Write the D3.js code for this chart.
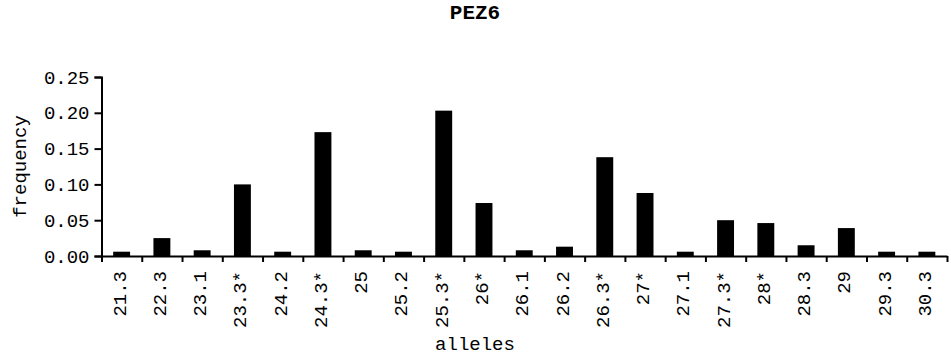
<!DOCTYPE html>
<html lang="en">
<head>
    <title>PEZ6</title>
    <script src="https://d3js.org/d3.v7.min.js" charset="utf-8"></script>
    <style type="text/css">
        body
        {
            margin: 0;
            background-color: white;
        }
        svg text
        {
            font-family: "Liberation Mono", "Courier New", monospace;
            fill: black;
        }
    </style>
</head>
<body>
    <div id="chart_div"></div>
    <script>
    "use strict";
    var alleles = ["21.3", "22.3", "23.1", "23.3*", "24.2", "24.3*", "25", "25.2", "25.3*", "26*", "26.1",
                   "26.2", "26.3*", "27*", "27.1", "27.3*", "28*", "28.3", "29", "29.3", "30.3"];
    var frequency = [0.006, 0.025, 0.008, 0.100, 0.006, 0.173, 0.008, 0.006, 0.203, 0.074, 0.008,
                     0.013, 0.138, 0.088, 0.006, 0.050, 0.046, 0.015, 0.039, 0.006, 0.006];
    var y_ticks = [0, 0.05, 0.10, 0.15, 0.20, 0.25];

    var svg_width = 951;
    var svg_height = 357;
    var plot_left = 101.5, plot_right = 947, plot_top = 77, plot_bottom = 256;

    var chart_svg = d3.select("#chart_div")
        .append("svg")
        .attr("width", svg_width)
        .attr("height", svg_height);

    var x = d3.scaleBand()
        .domain(alleles)
        .range([plot_left, plot_right])
        .paddingInner(0.58)
        .paddingOuter(0.29);
    var x_edges = d3.scaleLinear()
        .domain([0, alleles.length])
        .range([plot_left, plot_right]);
    var y = d3.scaleLinear()
        .domain([0, 0.25])
        .range([plot_bottom, plot_top]);

    // bars
    chart_svg.append("g")
        .selectAll("rect")
        .data(frequency)
        .enter()
        .append("rect")
        .attr("x", function(d, i) { return x(alleles[i]); })
        .attr("width", x.bandwidth())
        .attr("y", function(d) { return y(d); })
        .attr("height", function(d) { return plot_bottom - y(d); })
        .attr("fill", "black");

    // y axis
    var y_axis = chart_svg.append("g")
        .attr("transform", "translate(" + plot_left + ",0)")
        .call(d3.axisLeft(y).tickValues(y_ticks).tickFormat(d3.format(".2f")).tickSize(7).tickPadding(5));
    y_axis.selectAll("text").style("font-size", "19px");

    // x axis: ticks on band edges, labels in the middle
    chart_svg.append("g")
        .attr("transform", "translate(0," + plot_bottom + ")")
        .call(d3.axisBottom(x_edges).tickValues(d3.range(alleles.length + 1)).tickFormat("").tickSize(6).tickSizeOuter(0));

    chart_svg.selectAll(".domain, .tick line")
        .attr("stroke", "black")
        .attr("stroke-width", 2);

    chart_svg.append("g")
        .selectAll("text")
        .data(alleles)
        .enter()
        .append("text")
        .attr("transform", function(d) { return "translate(" + (x(d) + x.bandwidth() / 2 + 4) + ",271) rotate(-90)"; })
        .style("text-anchor", "end")
        .style("font-size", "19px")
        .text(function(d) { return d; });

    // titles
    chart_svg.append("text")
        .attr("x", 475)
        .attr("y", 19)
        .style("text-anchor", "middle")
        .style("font-size", "21px")
        .style("font-weight", "bold")
        .text("PEZ6");
    chart_svg.append("text")
        .attr("x", 475)
        .attr("y", 350)
        .style("text-anchor", "middle")
        .style("font-size", "19px")
        .text("alleles");
    chart_svg.append("text")
        .attr("transform", "translate(26," + ((plot_top + plot_bottom) / 2) + ") rotate(-90)")
        .style("text-anchor", "middle")
        .style("font-size", "19px")
        .text("frequency");
    </script>
</body>
</html>
